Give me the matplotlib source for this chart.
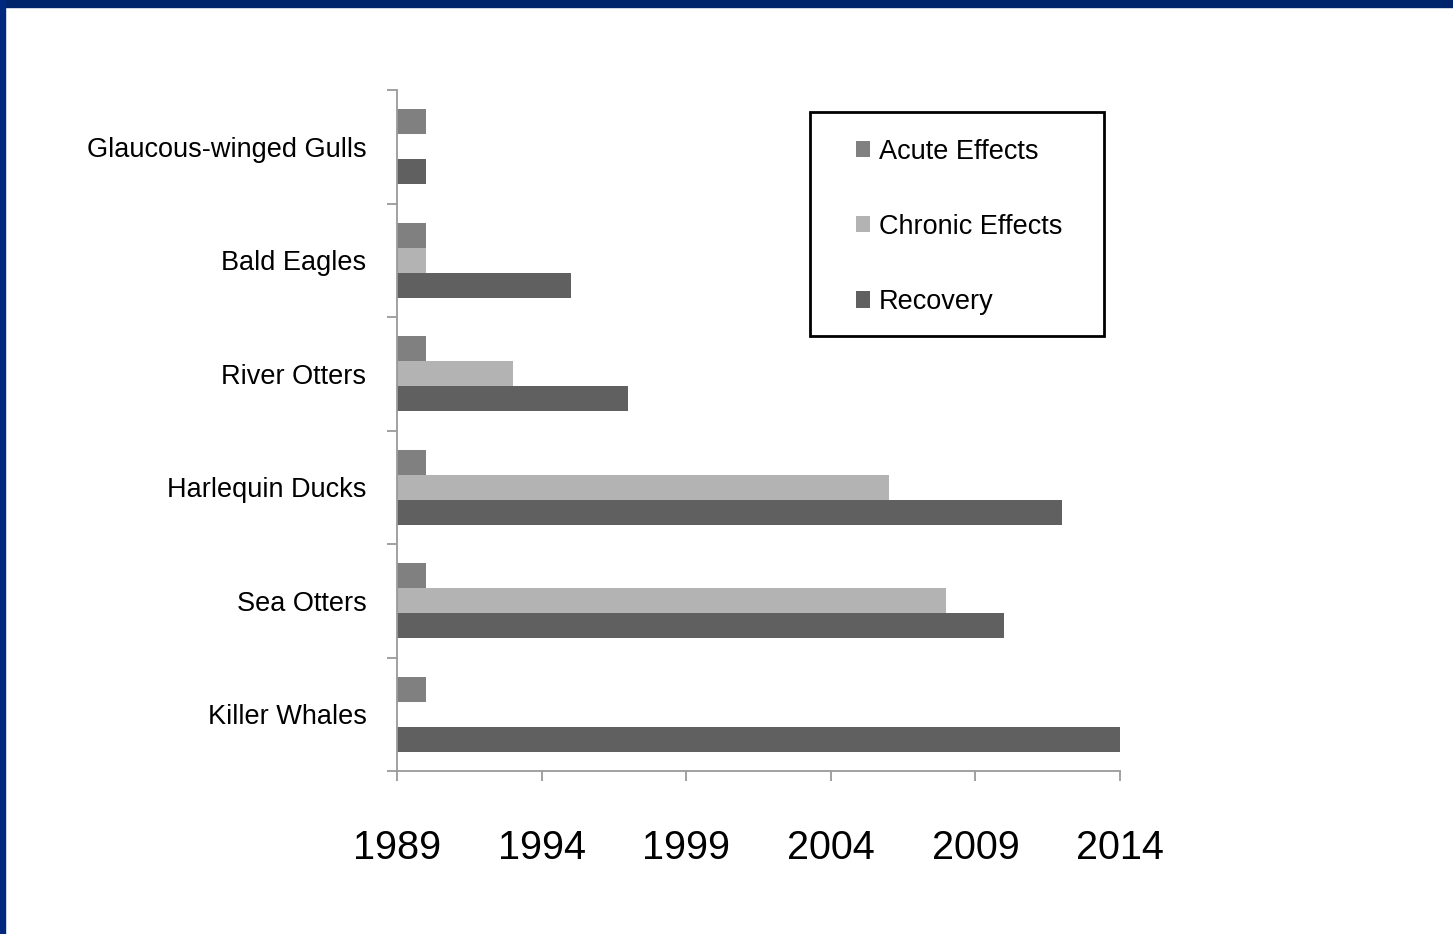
import matplotlib
matplotlib.use("Agg")
import matplotlib.pyplot as plt
from matplotlib.patches import Rectangle
from matplotlib import font_manager
import numpy as np

# data (years)
species = ["Glaucous-winged Gulls", "Bald Eagles", "River Otters",
           "Harlequin Ducks", "Sea Otters", "Killer Whales"]
start_year = 1989
acute_end = [1990, 1990, 1990, 1990, 1990, 1990]
chronic_end = [None, 1990, 1993, 2006, 2008, None]
recovery_end = [1990, 1995, 1997, 2012, 2010, 2014]
year_ticks = [1989, 1994, 1999, 2004, 2009, 2014]
series_names = ["Acute Effects", "Chronic Effects", "Recovery"]
colors = ["#808080", "#b3b3b3", "#606060"]

names = {f.name for f in font_manager.fontManager.ttflist}
narrow = "Liberation Sans Narrow" in names
if narrow:
    plt.rcParams["font.family"] = ["Liberation Sans Narrow", "DejaVu Sans"]
    lab_fs, tick_fs = 23, 30
else:
    plt.rcParams["font.family"] = ["Liberation Sans", "DejaVu Sans"]
    lab_fs, tick_fs = 19.5, 28.5

W, H = 1453, 934
fig = plt.figure(figsize=(W / 100, H / 100), dpi=100)
fig.patch.set_facecolor("white")

# blue slide border (top and left)
fig.patches.append(Rectangle((0, 1 - 7 / H), 1, 7 / H, transform=fig.transFigure,
                             color="#00246c", zorder=0))
fig.patches.append(Rectangle((0, 0), 5 / W, 1, transform=fig.transFigure,
                             color="#00287f", zorder=0))

ax = fig.add_axes([397 / W, 1 - 771 / H, (1120 - 397) / W, (771 - 90) / H])

y = np.arange(len(species))
h = 0.22
widths = [
    [e - start_year for e in acute_end],
    [(e - start_year) if e is not None else 0 for e in chronic_end],
    [e - start_year for e in recovery_end],
]
handles = []
for i, (wd, c, name) in enumerate(zip(widths, colors, series_names)):
    b = ax.barh(y + (i - 1) * h, wd, left=start_year, height=h, color=c,
                linewidth=0, label=name)
    handles.append(b)

ax.set_xlim(1989, 2014)
ax.set_ylim(len(species) - 0.5, -0.5)

for s in ["top", "right"]:
    ax.spines[s].set_visible(False)
for s in ["left", "bottom"]:
    ax.spines[s].set_color("#9a9a9a")
    ax.spines[s].set_linewidth(1.3)

ax.set_xticks(year_ticks)
ax.set_xticklabels([str(t) for t in year_ticks], fontsize=tick_fs)
ax.tick_params(axis="x", direction="out", length=7, width=1.3, color="#9a9a9a", pad=35)

ax.set_yticks(np.arange(len(species) + 1) - 0.5)
ax.set_yticklabels([])
ax.tick_params(axis="y", which="major", direction="out", length=7, width=1.3, color="#9a9a9a")
ax.set_yticks(y, minor=True)
ax.set_yticklabels(species, minor=True, fontsize=lab_fs)
ax.tick_params(axis="y", which="minor", length=0, pad=22)

# legend box
fig.patches.append(Rectangle((810 / W, 1 - 336 / H), (1104 - 810) / W, (336 - 112) / H,
                             transform=fig.transFigure, fill=False,
                             edgecolor="black", linewidth=2, zorder=3))
fig.legend(handles=handles, labels=series_names, loc="upper left",
           bbox_to_anchor=(842 / W, 1 - 125 / H), frameon=False,
           fontsize=lab_fs, borderpad=0, handlelength=0.55, handleheight=0.55,
           handletextpad=0.3, labelspacing=1.82)

fig.savefig("out.png", dpi=100)
